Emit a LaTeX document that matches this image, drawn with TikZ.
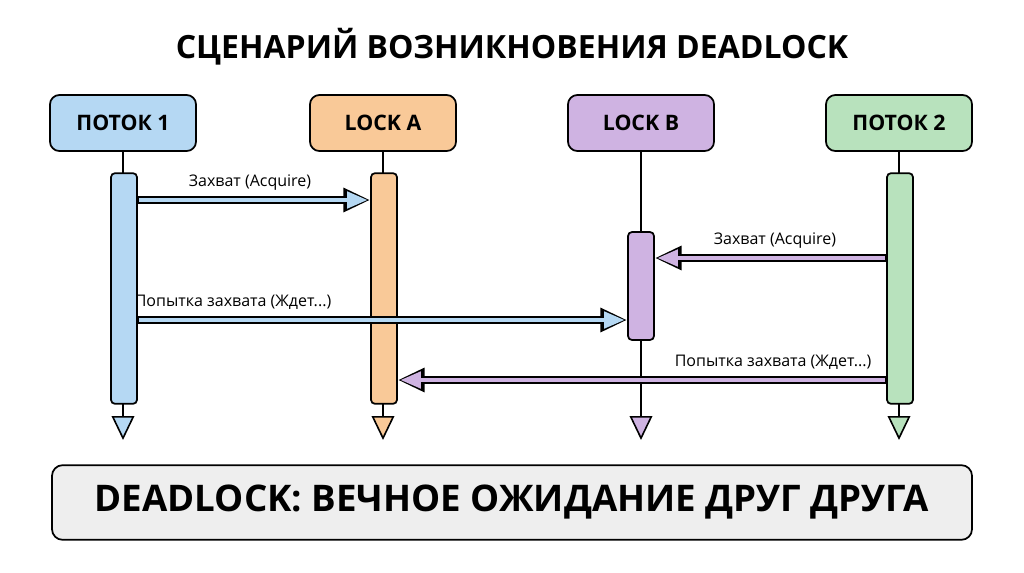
\documentclass[tikz,border=0pt]{standalone}
\usepackage{fontspec}
\setmainfont{Open Sans}
\usetikzlibrary{arrows.meta}
\definecolor{cblue}{HTML}{B5D8F3}
\definecolor{corange}{HTML}{F9C998}
\definecolor{cpurple}{HTML}{CFB3E2}
\definecolor{cgreen}{HTML}{B8E2BD}
\definecolor{cgray}{HTML}{EEEEEE}
\begin{document}
\begin{tikzpicture}[x=0.75pt,y=-0.75pt,
  head/.style={draw=black,line width=1.3pt,rounded corners=7pt,minimum width=109.5pt,minimum height=42pt,font=\bfseries\fontsize{16}{19}\selectfont},
  bar/.style={draw=black,line width=1.3pt,rounded corners=3pt,minimum width=19.5pt},
  life/.style={line width=1.2pt,-{Triangle[length=18pt,width=17pt,line width=1.2pt,fill=#1]}},
  lbl/.style={font=\fontsize{12}{14}\selectfont},
  arr/.style={line width=6.5pt,-{Triangle[length=20pt,width=17pt]}},
  arrin/.style={line width=3.5pt,shorten >=1.8pt,-{Triangle[length=15.5pt,width=12pt]}}]
\useasboundingbox (0,0) rectangle (1024,572);
\node[font=\bfseries\fontsize{24}{28}\selectfont] (title) at (512,47) {СЦЕНАРИЙ ВОЗНИКНОВЕНИЯ DEADLOCK};
\node[head,fill=cblue] (h1) at (123,123) {ПОТОК 1};
\node[head,fill=corange] (ha) at (383,123) {LOCK A};
\node[head,fill=cpurple] (hb) at (641,123) {LOCK B};
\node[head,fill=cgreen] (h2) at (899,123) {ПОТОК 2};
\coordinate (e1) at (123,440); \coordinate (ea) at (383,440);
\coordinate (eb) at (641,440); \coordinate (e2) at (899,440);
\draw[life=cblue] (h1.south) -- (e1);
\draw[life=corange] (ha.south) -- (ea);
\draw[life=cpurple] (hb.south) -- (eb);
\draw[life=cgreen] (h2.south) -- (e2);
\node[bar,fill=cblue,minimum height=173pt] (b1) at (124,288.5) {};
\node[bar,fill=corange,minimum height=173pt] (ba) at (384,288.5) {};
\node[bar,fill=cpurple,minimum height=81pt] (bb) at (641,286) {};
\node[bar,fill=cgreen,minimum height=173pt] (b2) at (900,288.5) {};
% arrows
\coordinate (s1) at (b1.east |- 0,200); \coordinate (t1) at (ba.west |- 0,200);
\draw[arr] (s1) -- (t1); \draw[arrin,cblue] ([xshift=1pt]s1) -- (t1);
\node[lbl] at (250,183) {Захват (Acquire)};
\coordinate (s2) at (b2.west |- 0,258); \coordinate (t2) at (bb.east |- 0,258);
\draw[arr] (s2) -- (t2); \draw[arrin,cpurple] ([xshift=-1pt]s2) -- (t2);
\node[lbl] at (775,241) {Захват (Acquire)};
\coordinate (s3) at (b1.east |- 0,320); \coordinate (t3) at (bb.west |- 0,320);
\draw[arr] (s3) -- (t3); \draw[arrin,cblue] ([xshift=1pt]s3) -- (t3);
\node[lbl] at (233,302) {Попытка захвата (Ждет...)};
\coordinate (s4) at (b2.west |- 0,380); \coordinate (t4) at (ba.east |- 0,380);
\draw[arr] (s4) -- (t4); \draw[arrin,cpurple] ([xshift=-1pt]s4) -- (t4);
\node[lbl] at (773,362) {Попытка захвата (Ждет...)};
\node[draw=black,line width=1.3pt,rounded corners=8pt,fill=cgray,minimum width=690pt,minimum height=56pt,font=\bfseries\fontsize{27.5}{32}\selectfont] (res) at (512,502.5) {DEADLOCK: ВЕЧНОЕ ОЖИДАНИЕ ДРУГ ДРУГА};
\end{tikzpicture}
\end{document}
